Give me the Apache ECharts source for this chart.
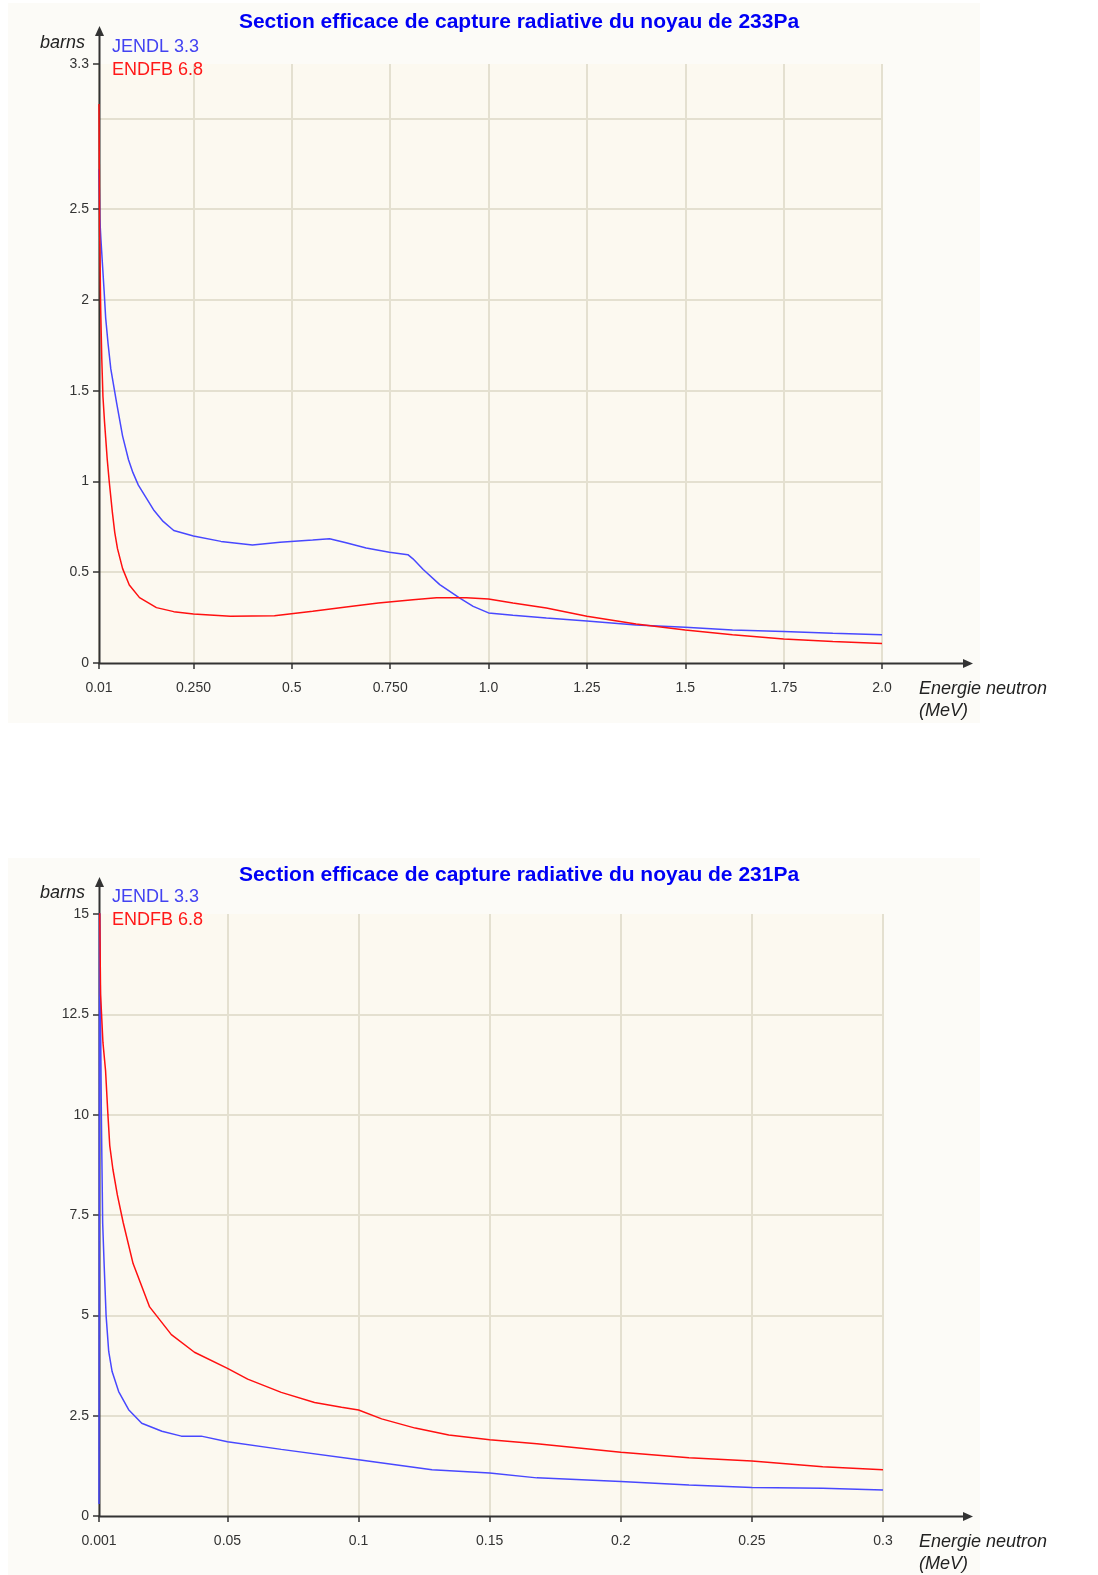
<!DOCTYPE html>
<html><head><meta charset="utf-8">
<script src="https://cdn.jsdelivr.net/npm/echarts@6/dist/echarts.min.js"></script>
<style>html,body{margin:0;padding:0;background:#ffffff}#c{width:1098px;height:1575px}</style>
</head><body><div id="c"></div>
<script>
// ---------- DATA ----------
const seriesNames = ['JENDL 3.3', 'ENDFB 6.8'];
const chartTitles = ['Section efficace de capture radiative du noyau de 233Pa',
                     'Section efficace de capture radiative du noyau de 231Pa'];
const yAxisName = 'barns';
const xAxisName = 'Energie neutron\n(MeV)';

// 233Pa (MeV, barns)
const pa233JendlE = [0.01,0.012,0.015,0.019,0.023,0.027,0.033,0.04,0.055,0.07,0.085,0.096,0.11,0.13,0.15,0.173,0.2,0.25,0.32,0.4,0.47,0.553,0.596,0.638,0.689,0.748,0.795,0.808,0.834,0.876,0.927,0.961,1.0,1.062,1.147,1.25,1.375,1.5,1.62,1.75,1.875,2.0];
const pa233JendlV = [2.72,2.45,2.33,2.19,2.05,1.90,1.76,1.62,1.43,1.25,1.12,1.05,0.98,0.91,0.84,0.78,0.73,0.70,0.67,0.65,0.665,0.677,0.684,0.662,0.634,0.61,0.597,0.574,0.515,0.432,0.358,0.312,0.276,0.263,0.248,0.232,0.21,0.197,0.182,0.173,0.164,0.156];
const pa233EndfE = [0.01,0.0115,0.0143,0.017,0.02,0.024,0.027,0.031,0.036,0.044,0.05,0.057,0.07,0.087,0.113,0.156,0.2,0.25,0.344,0.456,0.553,0.638,0.72,0.808,0.868,0.944,1.0,1.062,1.147,1.25,1.375,1.5,1.62,1.75,1.875,2.0];
const pa233EndfV = [3.08,2.4,1.95,1.68,1.47,1.33,1.24,1.12,1.0,0.83,0.72,0.63,0.52,0.43,0.36,0.305,0.283,0.27,0.258,0.26,0.285,0.309,0.331,0.349,0.36,0.36,0.353,0.331,0.303,0.258,0.215,0.182,0.156,0.132,0.118,0.107];

// 231Pa (MeV, barns)
const pa231JendlE = [0.001,0.0012,0.0016,0.0019,0.0021,0.0024,0.003,0.0037,0.0047,0.006,0.0085,0.0123,0.0173,0.025,0.0324,0.04,0.05,0.0705,0.1,0.128,0.15,0.168,0.2,0.226,0.25,0.277,0.3];
const pa231JendlV = [0.3,15.5,12.4,10.0,8.9,7.3,6.2,5.0,4.1,3.6,3.1,2.65,2.31,2.11,1.99,1.99,1.85,1.66,1.40,1.15,1.07,0.95,0.86,0.77,0.71,0.69,0.65];
const pa231EndfE = [0.0012,0.0016,0.0025,0.0035,0.0044,0.0051,0.0063,0.008,0.0102,0.014,0.0203,0.0286,0.0374,0.05,0.0577,0.0705,0.0832,0.0935,0.1,0.1088,0.1216,0.1344,0.15,0.168,0.2,0.226,0.25,0.277,0.3];
const pa231EndfV = [15.5,13.0,11.8,11.1,10.0,9.23,8.64,8.0,7.32,6.29,5.21,4.52,4.08,3.68,3.41,3.08,2.83,2.71,2.64,2.42,2.19,2.02,1.90,1.80,1.59,1.45,1.37,1.23,1.15];

// tick values, tick labels and grid-line values
const pa233XTicks = [0.01,0.25,0.5,0.75,1.0,1.25,1.5,1.75,2.0];
const pa233XTickLabels = ['0.01','0.250','0.5','0.750','1.0','1.25','1.5','1.75','2.0'];
const pa233YTicks = [0,0.5,1,1.5,2,2.5,3.3];
const pa233YTickLabels = ['0','0.5','1','1.5','2','2.5','3.3'];
const pa233YGridLines = [0.5,1,1.5,2,2.5,3];
const pa231XTicks = [0.001,0.05,0.1,0.15,0.2,0.25,0.3];
const pa231XTickLabels = ['0.001','0.05','0.1','0.15','0.2','0.25','0.3'];
const pa231YTicks = [0,2.5,5,7.5,10,12.5,15];
const pa231YTickLabels = ['0','2.5','5','7.5','10','12.5','15'];
const pa231YGridLines = [2.5,5,7.5,10,12.5];

// ---------- STYLE / LAYOUT ----------
const FONT = '"Liberation Sans", Arial, Helvetica, sans-serif';
const COLORS = ['#4848FF', '#FF1010'];
const LEGEND_COLORS = ['#4343F2', '#FF1818'];
const AXIS_COLOR = '#333333';
const GRID_COLOR = '#E4E0D0';
const PLOT_BG = '#FCF9F0';
const OUTER_BG = '#FCFBF7';

const panels = [
  { grid: {left: 99, top: 64, width: 783, height: 599}, bg: {x: 8, y: 3, w: 972, h: 720},
    arrowTop: 26, arrowRight: 973, titleY: 22,
    xTicks: pa233XTicks, xLabels: pa233XTickLabels, yTicks: pa233YTicks, yLabels: pa233YTickLabels,
    yGrid: pa233YGridLines,
    xmin: 0.01, xmax: 2.0, ymin: 0, ymax: 3.3,
    data: [[pa233JendlE, pa233JendlV], [pa233EndfE, pa233EndfV]] },
  { grid: {left: 99, top: 914, width: 784, height: 602}, bg: {x: 8, y: 858, w: 972, h: 717},
    arrowTop: 877, arrowRight: 973, titleY: 875,
    xTicks: pa231XTicks, xLabels: pa231XTickLabels, yTicks: pa231YTicks, yLabels: pa231YTickLabels,
    yGrid: pa231YGridLines,
    xmin: 0.001, xmax: 0.3, ymin: 0, ymax: 15,
    data: [[pa231JendlE, pa231JendlV], [pa231EndfE, pa231EndfV]] }
];

function labelFor(ticks, labels) {
  return function (v) {
    for (let i = 0; i < ticks.length; i++) if (Math.abs(ticks[i] - v) < 1e-9) return labels[i];
    return '';
  };
}

const grids = [], xAxes = [], yAxes = [], series = [], legends = [], graphics = [];

panels.forEach((p, k) => {
  const g = p.grid;
  grids.push({ left: g.left, top: g.top, width: g.width, height: g.height,
               show: true, backgroundColor: PLOT_BG, borderWidth: 0, containLabel: false });
  xAxes.push({
    type: 'value', gridIndex: k, min: p.xmin, max: p.xmax,
    axisLine: { show: false },
    axisTick: { show: true, length: 6, inside: false, customValues: p.xTicks,
                lineStyle: { color: AXIS_COLOR, width: 1.5 } },
    axisLabel: { customValues: p.xTicks, formatter: labelFor(p.xTicks, p.xLabels),
                 color: AXIS_COLOR, fontSize: 14, fontFamily: FONT, margin: 18,
                 showMinLabel: true, showMaxLabel: true },
    splitLine: { show: true, lineStyle: { color: GRID_COLOR, width: 2 } }
  });
  // main y axis: ticks + labels
  yAxes.push({
    type: 'value', gridIndex: k, min: p.ymin, max: p.ymax, position: 'left',
    axisLine: { show: false },
    axisTick: { show: true, length: 6, inside: false, customValues: p.yTicks,
                lineStyle: { color: AXIS_COLOR, width: 1.5 } },
    axisLabel: { customValues: p.yTicks, formatter: labelFor(p.yTicks, p.yLabels),
                 color: AXIS_COLOR, fontSize: 14, fontFamily: FONT, margin: 10,
                 showMinLabel: true, showMaxLabel: true },
    splitLine: { show: false }
  });
  // helper y axis: horizontal grid lines only
  yAxes.push({
    type: 'value', gridIndex: k, min: p.ymin, max: p.ymax, position: 'right',
    axisLine: { show: false },
    axisTick: { show: false, customValues: p.yGrid },
    axisLabel: { show: false },
    splitLine: { show: true, lineStyle: { color: GRID_COLOR, width: 2 } }
  });
  p.data.forEach((d, s) => {
    series.push({
      name: seriesNames[s], type: 'line', xAxisIndex: k, yAxisIndex: 2 * k,
      data: d[0].map((e, i) => [e, d[1][i]]),
      showSymbol: false, symbol: 'none', clip: true, z: 3,
      lineStyle: { color: COLORS[s], width: 1.5 }, itemStyle: { color: COLORS[s] }
    });
  });
  legends.push({
    orient: 'vertical', left: g.left + 8, top: g.top - 26, itemGap: 5, padding: 0,
    icon: 'none', itemWidth: 0, itemHeight: 0, selectedMode: false,
    data: seriesNames.map((n, s) => ({ name: n, textStyle: { color: LEGEND_COLORS[s] } })),
    textStyle: { fontSize: 18, fontFamily: FONT }
  });

  const x0 = g.left + 0.5, y0 = g.top + g.height + 0.5;
  graphics.push({ type: 'rect', z: -100, silent: true,
    shape: { x: p.bg.x, y: p.bg.y, width: p.bg.w, height: p.bg.h }, style: { fill: OUTER_BG } });
  graphics.push({ type: 'line', z: 1, silent: true,
    shape: { x1: x0, y1: y0, x2: x0, y2: p.arrowTop + 4 }, style: { stroke: AXIS_COLOR, lineWidth: 2 } });
  graphics.push({ type: 'polygon', z: 1, silent: true,
    shape: { points: [[x0, p.arrowTop], [x0 - 4.5, p.arrowTop + 10], [x0 + 4.5, p.arrowTop + 10]] },
    style: { fill: AXIS_COLOR } });
  graphics.push({ type: 'line', z: 1, silent: true,
    shape: { x1: x0 - 1, y1: y0, x2: p.arrowRight - 4, y2: y0 }, style: { stroke: AXIS_COLOR, lineWidth: 2 } });
  graphics.push({ type: 'polygon', z: 1, silent: true,
    shape: { points: [[p.arrowRight, y0], [p.arrowRight - 10, y0 - 4.5], [p.arrowRight - 10, y0 + 4.5]] },
    style: { fill: AXIS_COLOR } });
  graphics.push({ type: 'text', z: 5, x: 519, y: p.titleY,
    style: { text: chartTitles[k], fill: '#0000F5', font: 'bold 21px ' + FONT,
             textAlign: 'center', textVerticalAlign: 'middle' } });
  graphics.push({ type: 'text', z: 5, x: 85, y: g.top - 21,
    style: { text: yAxisName, fill: '#222222', font: 'italic 18px ' + FONT,
             textAlign: 'right', textVerticalAlign: 'middle' } });
  graphics.push({ type: 'text', z: 5, x: 919, y: y0 + 14,
    style: { text: xAxisName, fill: '#222222', font: 'italic 18px ' + FONT,
             textAlign: 'left', textVerticalAlign: 'top', lineHeight: 22 } });
});

const chart = echarts.init(document.getElementById('c'), null, { renderer: 'canvas', width: 1098, height: 1575 });
chart.setOption({
  backgroundColor: '#ffffff',
  animation: false,
  grid: grids, xAxis: xAxes, yAxis: yAxes, series: series, legend: legends,
  graphic: { elements: graphics }
});
</script></body></html>
